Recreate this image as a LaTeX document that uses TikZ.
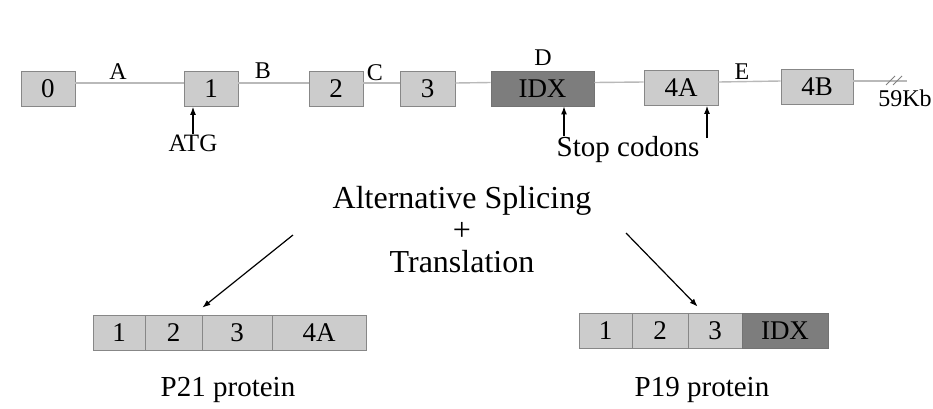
\documentclass[tikz,border=0pt]{standalone}
\usepackage{fontspec}
\setmainfont{Liberation Serif}
\usetikzlibrary{arrows.meta}

\definecolor{exonfill}{RGB}{204,204,204}
\definecolor{idxfill}{RGB}{125,125,125}
\definecolor{exonline}{RGB}{135,135,135}
\definecolor{intronline}{RGB}{185,185,185}

\begin{document}
\begin{tikzpicture}[x=0.5pt, y=-0.5pt,
		exon/.style={rectangle, draw=exonline, fill=exonfill, inner sep=0pt, minimum height=17.5pt, font=\fontsize{13.5}{14}\selectfont},
		idxbox/.style={exon, fill=idxfill, draw=gray!90!black},
		intron/.style={intronline, line width=0.7pt},
		letter/.style={font=\fontsize{12}{13}\selectfont, inner sep=0pt},
		caption/.style={font=\fontsize{14.5}{15}\selectfont, inner sep=0pt},
		pointer/.style={-{Latex[length=4pt,width=3pt]}, line width=0.6pt}]
	\useasboundingbox (0,0) rectangle (933,408);

	% gene: exons on the backbone
	\node[exon, minimum width=27pt] (ex0) at (48,89) {0};
	\node[exon, minimum width=27pt] (ex1) at (211,89) {1};
	\node[exon, minimum width=27pt] (ex2) at (336,89) {2};
	\node[exon, minimum width=27.5pt] (ex3) at (427.5,89) {3};
	\node[idxbox, minimum width=51.5pt] (idx) at (542.5,88.5) {IDX};
	\node[exon, minimum width=37pt] (ex4a) at (681,88) {4A};
	\node[exon, minimum width=36pt] (ex4b) at (817,87) {4B};
	\coordinate (tail) at (907,81);

	% introns between exons
	\draw[intron] ([yshift=3pt]ex0.east) -- ([yshift=3pt]ex1.west);
	\draw[intron] ([yshift=3pt]ex1.east) -- ([yshift=3pt]ex2.west);
	\draw[intron] ([yshift=3pt]ex2.east) -- ([yshift=3pt]ex3.west);
	\draw[intron] ([yshift=3pt]ex3.east) -- ([yshift=3pt]idx.west);
	\draw[intron] ([yshift=3pt]idx.east) -- ([yshift=3pt]ex4a.west);
	\draw[intron] ([yshift=3pt]ex4a.east) -- ([yshift=3pt]ex4b.west);
	\draw[intron] ([yshift=3pt]ex4b.east) -- (tail);
	\foreach \bx in {886,893}
		\draw[gray, line width=0.5pt] (\bx,85) -- (\bx+9,76);

	% intron letters
	\node[letter] (la) at (118,72) {A};
	\node[letter] (lb) at (263,71) {B};
	\node[letter] (lc) at (375,73) {C};
	\node[letter] (ld) at (543,58) {D};
	\node[letter] (le) at (742,72) {E};
	\node[font=\fontsize{12}{13}\selectfont, inner sep=0pt] (size) at (905,98) {59Kb};

	% start and stop sites
	\node[letter, font=\fontsize{12.5}{13}\selectfont] (atg) at (193,143) {ATG};
	\draw[pointer] (atg.north) -- (atg.north |- ex1.south);
	\node[caption] (stop) at (628,150) {Stop codons};
	\coordinate (stop1) at (564,136);
	\coordinate (stop2) at (707,138);
	\draw[pointer] (stop1) -- (stop1 |- idx.south);
	\draw[pointer] (stop2) -- (stop2 |- ex4a.south);

	% processing step
	\node[font=\fontsize{16}{16}\selectfont, align=center, inner sep=0pt] (splice) at (462,230)
		{Alternative Splicing\\+\\Translation};
	\coordinate (splitl) at (293,235);
	\coordinate (splitr) at (626,233);

	% P21 protein
	\node[exon, minimum width=26pt] (pa1) at (119,332.5) {1};
	\node[exon, minimum width=28.5pt] (pa2) at (173.5,332.5) {2};
	\node[exon, minimum width=35pt] (pa3) at (237,332.5) {3};
	\node[exon, minimum width=47pt] (pa4) at (319,332.5) {4A};
	\node[caption] (p21) at (228,390) {P21 protein};

	% P19 protein
	\node[exon, minimum width=26.5pt] (pb1) at (605.5,330.5) {1};
	\node[exon, minimum width=28pt] (pb2) at (660,330.5) {2};
	\node[exon, minimum width=27pt] (pb3) at (715,330.5) {3};
	\node[idxbox, minimum width=43pt] (pb4) at (785,330.5) {IDX};
	\node[caption] (p19) at (702,390) {P19 protein};

	% splicing arrows
	\draw[pointer] (splitl) -- ([yshift=3.5pt]pa2.north east);
	\draw[pointer] (splitr) -- ([xshift=5pt,yshift=3pt]pb3.north west);
\end{tikzpicture}
\end{document}
